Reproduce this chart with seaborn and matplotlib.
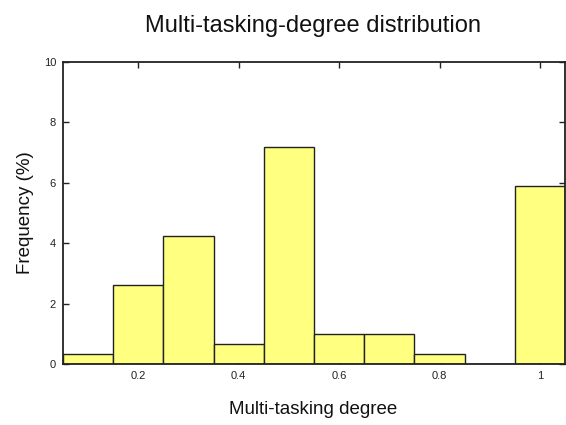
import matplotlib
matplotlib.use("Agg")
import matplotlib.pyplot as plt
import seaborn as sns
import pandas as pd

# Data
degree = [0.1, 0.2, 0.3, 0.4, 0.5, 0.6, 0.7, 0.8, 0.9, 1.0]
frequency = [0.34, 2.62, 4.24, 0.65, 7.18, 0.98, 0.98, 0.34, 0.0, 5.88]
xticks = [0.2, 0.4, 0.6, 0.8, 1.0]
xtick_labels = ["0.2", "0.4", "0.6", "0.8", "1"]
yticks = [0, 2, 4, 6, 8, 10]
ytick_labels = ["0", "2", "4", "6", "8", "10"]

sns.set_theme(style="ticks")
plt.rcParams['font.family'] = ['Liberation Sans', 'DejaVu Sans']

df = pd.DataFrame({"degree": degree, "frequency": frequency})

fig = plt.figure(figsize=(5.66, 4.25), dpi=100)
ax = fig.add_axes([63/566, 1-364/425, (565-63)/566, (364-62)/425])

sns.barplot(data=df, x="degree", y="frequency", native_scale=True, width=1.0,
            color="#ffff80", saturation=1, edgecolor="#222222", linewidth=1.0, ax=ax)

ax.set_xlim(0.05, 1.05)
ax.set_ylim(0, 10)
ax.set_xticks(xticks)
ax.set_xticklabels(xtick_labels)
ax.set_yticks(yticks)
ax.set_yticklabels(ytick_labels)
ax.tick_params(direction="in", top=True, right=True, labelsize=8, length=4,
               width=1, colors="#222222", pad=5)
for s in ax.spines.values():
    s.set_linewidth(1.3)
    s.set_color("#222222")

ax.set_xlabel("Multi-tasking degree", fontsize=13.5, color="#111111")
ax.xaxis.label.set_va("center")
ax.xaxis.set_label_coords((313-63)/502, (364-410)/302)
ax.set_ylabel("Frequency (%)", fontsize=13.5, color="#111111")
ax.yaxis.label.set_va("center")
ax.yaxis.set_label_coords((25-63)/502, 0.5)
fig.text(313/566, 1-26/425, "Multi-tasking-degree distribution", fontsize=17,
         ha="center", va="center", color="#111111")

fig.savefig("out.png", dpi=100)
